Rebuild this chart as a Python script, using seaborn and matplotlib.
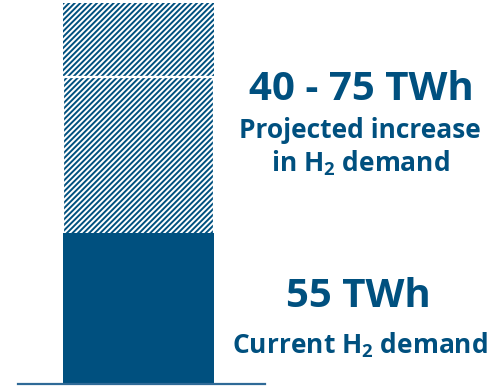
import matplotlib
matplotlib.use("Agg")
import matplotlib.pyplot as plt
import seaborn as sns
import numpy as np

# ---- data (bar heights) ----
category = ["H2 demand"]
current_height = [55]          # solid segment
projected_lower_height = [57]  # lower hatched segment
projected_upper_height = [27]  # upper hatched segment

current_label = "55 TWh"
current_caption = r"Current H$_\mathregular{2}$ demand"
projected_label = "40 - 75 TWh"
projected_caption_1 = "Projected increase"
projected_caption_2 = r"in H$_\mathregular{2}$ demand"

BLUE = "#00507F"

sns.set_theme(style="white")
plt.rcParams["font.family"] = ["Open Sans", "DejaVu Sans"]
plt.rcParams["mathtext.fontset"] = "custom"
plt.rcParams["mathtext.default"] = "regular"
plt.rcParams["hatch.linewidth"] = 1.4

fig = plt.figure(figsize=(5.0, 3.9), dpi=100)
ax = fig.add_axes([0, 0, 1, 1])

tot_lower = [a + b for a, b in zip(current_height, projected_lower_height)]
tot_upper = [a + b for a, b in zip(tot_lower, projected_upper_height)]

# upper hatched (total)
sns.barplot(x=category, y=tot_upper, color="white", saturation=1, edgecolor=BLUE,
            linewidth=0, hatch="//////", ax=ax, width=0.8)
# lower hatched
sns.barplot(x=category, y=tot_lower, color="white", saturation=1, edgecolor=BLUE,
            linewidth=0, hatch="//////", ax=ax, width=0.8)
# white separator outline
sns.barplot(x=category, y=tot_lower, fill=False, edgecolor="white",
            linewidth=1.6, ax=ax, width=0.8)
# solid current demand
sns.barplot(x=category, y=current_height, color=BLUE, saturation=1, edgecolor=BLUE,
            linewidth=0, ax=ax, width=0.8)

px_per_unit = 188.75
cx = 138.5
ax.set_xlim(-cx / px_per_unit, (500 - cx) / px_per_unit)
ypx = (384 - 3) / tot_upper[0]
ax.set_ylim(-6 / ypx, tot_upper[0] + 3 / ypx)

ax.set_xticks([])
ax.set_yticks([])
ax.set_xlabel("")
ax.set_ylabel("")
for s in ["top", "left", "right"]:
    ax.spines[s].set_visible(False)
ax.spines["bottom"].set_position(("data", 0))
ax.spines["bottom"].set_bounds((18 - cx) / px_per_unit, (265 - cx) / px_per_unit)
ax.spines["bottom"].set_color("#2F6A97")
ax.spines["bottom"].set_linewidth(1.6)
ax.set_facecolor("white")

def ftext(x, y, s, size):
    fig.text(x / 500, 1 - y / 390, s, ha="center", va="baseline",
             fontsize=size, fontweight="bold", color=BLUE)

ftext(361, 100, projected_label, 29)
ftext(360, 138, projected_caption_1, 19)
ftext(360, 171, projected_caption_2, 19)
ftext(358, 307, current_label, 29)
ftext(360, 353, current_caption, 19)

fig.savefig("out.png", dpi=100, facecolor="white")
